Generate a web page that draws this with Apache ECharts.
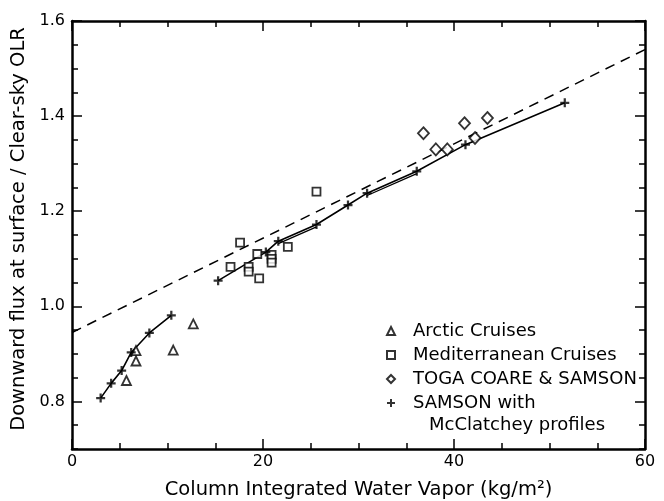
<!DOCTYPE html>
<html><head><meta charset="utf-8">
<script src="https://cdn.jsdelivr.net/npm/echarts@6/dist/echarts.min.js"></script>
<style>html,body{margin:0;padding:0;background:#fff}#c{width:664px;height:501px}</style>
</head><body><div id="c"></div>
<script>
// ---- data ----
var arcticX = [5.7, 6.7, 6.7, 10.6, 12.7];
var arcticY = [0.844, 0.907, 0.885, 0.908, 0.963];
var medX = [25.6, 17.6, 19.4, 16.6, 18.5, 18.5, 19.6, 20.9, 20.9, 20.9, 22.6];
var medY = [1.241, 1.134, 1.110, 1.083, 1.083, 1.073, 1.059, 1.108, 1.100, 1.092, 1.125];
var togaX = [36.8, 41.1, 43.5, 38.1, 39.3, 42.2];
var togaY = [1.364, 1.385, 1.396, 1.330, 1.330, 1.354];
var samLowX = [3.0, 4.1, 5.2, 6.2, 8.1, 10.4];
var samLowY = [0.807, 0.838, 0.865, 0.903, 0.944, 0.981];
var samHighX = [15.3, 20.3, 21.6, 25.6, 28.9, 30.9, 36.1, 41.2, 51.6];
var samHighY = [1.054, 1.114, 1.137, 1.172, 1.213, 1.238, 1.284, 1.340, 1.428];
var dblAX = [21.6, 25.6], dblAY = [1.132, 1.167];
var dblBX = [30.9, 36.1], dblBY = [1.233, 1.279];
var fitX = [0, 60];
var fitY = [0.945, 1.540];
var xMajor = [0, 20, 40, 60];
var yMajor = [0.8, 1.0, 1.2, 1.4, 1.6];

function zip(a, b) { return a.map(function (v, i) { return [v, b[i]]; }); }

var FONT = 'DejaVu Sans';
var PLUS = 'path://M-0.25,-1H0.25V-0.25H1V0.25H0.25V1H-0.25V0.25H-1V-0.25H-0.25Z';

function xAx(pos, long, labels) {
  return {
    type: 'value', position: pos, min: 0, max: 60, interval: 5,
    axisLine: { show: !long, onZero: false, lineStyle: { color: '#000', width: 2.5 } },
    axisTick: long ? { inside: true, length: 10, lineStyle: { color: '#000', width: 1.5 }, customValues: xMajor }
                   : { inside: true, length: 6, lineStyle: { color: '#000', width: 1.5 } },
    axisLabel: labels ? { show: true, color: '#000', fontFamily: FONT, fontSize: 16, margin: 5,
      formatter: function (v) { return (Math.round(v) % 20 === 0) ? String(Math.round(v)) : ''; } } : { show: false },
    splitLine: { show: false }
  };
}
function yAx(pos, long, labels) {
  return {
    type: 'value', position: pos, min: 0.7, max: 1.6, interval: 0.1,
    axisLine: { show: !long, onZero: false, lineStyle: { color: '#000', width: 2.5 } },
    axisTick: long ? { inside: true, length: 10, lineStyle: { color: '#000', width: 1.5 }, customValues: yMajor }
                   : { inside: true, length: 6, lineStyle: { color: '#000', width: 1.5 } },
    minorTick: long ? { show: false } : { show: true, splitNumber: 2, length: 6, lineStyle: { color: '#000', width: 1.5 } },
    axisLabel: labels ? { show: true, color: '#000', fontFamily: FONT, fontSize: 16, margin: 7,
      formatter: function (v) { var k = Math.round(v * 10); return (k % 2 === 0) ? (k / 10).toFixed(1) : ''; } } : { show: false },
    splitLine: { show: false }
  };
}

var xAxes = [xAx('bottom', false, true), xAx('bottom', true, false), xAx('top', false, false), xAx('top', true, false)];
xAxes[0].name = 'Column Integrated Water Vapor (kg/m\u00B2)';
xAxes[0].nameLocation = 'middle';
xAxes[0].nameGap = 31;
xAxes[0].nameTextStyle = { color: '#000', fontFamily: FONT, fontSize: 19.5 };
var yAxes = [yAx('left', false, true), yAx('left', true, false), yAx('right', false, false), yAx('right', true, false)];
yAxes[0].name = 'Downward flux at surface / Clear-sky OLR';
yAxes[0].nameLocation = 'middle';
yAxes[0].nameGap = 34;
yAxes[0].nameTextStyle = { color: '#000', fontFamily: FONT, fontSize: 19.5, padding: [0, 0, 0, 12] };

var openStyle = { color: '#fff', borderColor: '#000', borderWidth: 1.8 };

var option = {
  animation: false,
  backgroundColor: '#fff',
  grid: { left: 72, right: 19, top: 21, bottom: 52, outerBoundsMode: 'none', containLabel: false },
  xAxis: xAxes,
  yAxis: yAxes,
  legend: {
    orient: 'vertical', left: 381, top: 317, itemWidth: 8, itemHeight: 8, itemGap: 6,
    textStyle: { color: '#000', fontFamily: FONT, fontSize: 18, padding: [0, 0, 0, 13] },
    data: ['Arctic Cruises', 'Mediterranean Cruises', 'TOGA COARE & SAMSON', 'SAMSON with']
  },
  graphic: [{ type: 'text', left: 429, top: 416, style: { text: 'McClatchey profiles', fill: '#000', font: '18px "DejaVu Sans"' } }],
  series: [
    { name: 'fit', type: 'line', data: zip(fitX, fitY), showSymbol: false, symbol: 'none',
      lineStyle: { color: '#000', width: 1.5, type: [10, 7] }, z: 1 },
    { name: 'samLowLine', type: 'line', data: zip(samLowX, samLowY), symbol: 'none', lineStyle: { color: '#000', width: 1.6 }, z: 2 },
    { name: 'samHighLine', type: 'line', data: zip(samHighX, samHighY), symbol: 'none', lineStyle: { color: '#000', width: 1.6 }, z: 2 },
    { name: 'dblA', type: 'line', data: zip(dblAX, dblAY), symbol: 'none', lineStyle: { color: '#000', width: 1.3 }, z: 2 },
    { name: 'dblB', type: 'line', data: zip(dblBX, dblBY), symbol: 'none', lineStyle: { color: '#000', width: 1.3 }, z: 2 },
    { name: 'Arctic Cruises', type: 'scatter', data: zip(arcticX, arcticY), symbol: 'triangle', symbolSize: 9, itemStyle: openStyle, z: 3 },
    { name: 'Mediterranean Cruises', type: 'scatter', data: zip(medX, medY), symbol: 'rect', symbolSize: 8, itemStyle: openStyle, z: 3 },
    { name: 'TOGA COARE & SAMSON', type: 'scatter', data: zip(togaX, togaY), symbol: 'diamond', symbolSize: [11, 12], itemStyle: openStyle, z: 3 },
    { name: 'SAMSON with', type: 'scatter', data: zip(samLowX, samLowY).concat(zip(samHighX, samHighY)), symbol: PLUS, symbolSize: 9,
      itemStyle: { color: '#000', borderWidth: 0 }, z: 4 }
  ]
};
echarts.init(document.getElementById('c')).setOption(option);
</script>
</body></html>
